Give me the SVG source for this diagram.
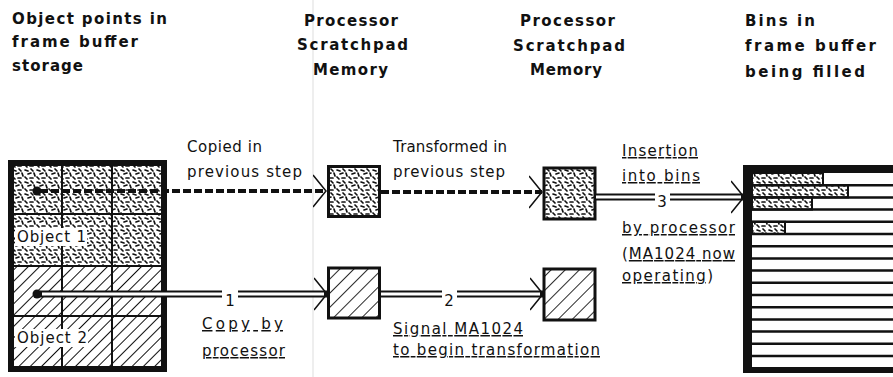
<svg xmlns="http://www.w3.org/2000/svg" width="893" height="377" viewBox="0 0 893 377">
<style>
.hd{font-family:"DejaVu Sans",sans-serif;font-weight:bold;font-size:15px;fill:#111}
.lb{font-family:"DejaVu Sans",sans-serif;font-size:15px;fill:#111}
.num{font-family:"DejaVu Sans",sans-serif;font-size:15px;fill:#111;text-anchor:middle}
.u{text-decoration:underline}
.box{stroke:#111;stroke-width:3}
.grid{stroke:#111;stroke-width:2;fill:none}
.dash{stroke:#111;stroke-width:4;stroke-dasharray:8 3;fill:none}
.dblo{stroke:#111;stroke-width:7;fill:none}
.dbli{stroke:#fff;stroke-width:3;fill:none}
.sep{stroke:#111;stroke-width:2.5}
.binfill{fill:url(#sq);stroke:#111;stroke-width:2}
</style>
<defs>
<pattern id="sq" width="12" height="12" patternUnits="userSpaceOnUse">
<rect width="12" height="12" fill="#fff"/>
<path d="M1,2 l3,1 M7,1 l2,2 M4,6 l3,-1 M10,5 l1,3 M1,9 l2,2 M6,10 l3,0" stroke="#111" stroke-width="1.7" stroke-linecap="round" fill="none"/>
</pattern>
<pattern id="hatch" width="8" height="8" patternUnits="userSpaceOnUse" patternTransform="rotate(45)">
<rect width="8" height="8" fill="#fff"/>
<line x1="0" y1="0" x2="0" y2="8" stroke="#111" stroke-width="2"/>
</pattern>
<pattern id="hatch2" width="10" height="10" patternUnits="userSpaceOnUse" patternTransform="rotate(45)">
<rect width="10" height="10" fill="#fff"/>
<line x1="0" y1="0" x2="0" y2="10" stroke="#111" stroke-width="1.8"/>
</pattern>
<marker id="chev" viewBox="0 0 14 34" refX="13" refY="17" markerWidth="14" markerHeight="34" orient="auto" markerUnits="userSpaceOnUse">
<path d="M0,1 L13,17 L0,33" fill="none" stroke="#111" stroke-width="1.5"/>
</marker>
</defs>
<rect width="893" height="377" fill="#fff"/>
<line x1="313" y1="0" x2="313" y2="377" stroke="#ddd" stroke-width="1"/>

<g id="headers">
<text class="hd" x="12" y="24" textLength="155">Object points in</text>
<text class="hd" x="12" y="47" textLength="126">frame buffer</text>
<text class="hd" x="12" y="71" textLength="71">storage</text>
<text class="hd" x="304" y="26" textLength="94">Processor</text>
<text class="hd" x="297" y="50" textLength="111">Scratchpad</text>
<text class="hd" x="313" y="75" textLength="75">Memory</text>
<text class="hd" x="520" y="26" textLength="95">Processor</text>
<text class="hd" x="513" y="51" textLength="112">Scratchpad</text>
<text class="hd" x="530" y="75" textLength="72">Memory</text>
<text class="hd" x="745" y="26" textLength="70">Bins in</text>
<text class="hd" x="745" y="51" textLength="131">frame buffer</text>
<text class="hd" x="745" y="77" textLength="120">being filled</text>
</g>

<g id="frame-buffer">
<rect x="14" y="166" width="150" height="100" fill="url(#sq)"/>
<rect x="14" y="266" width="150" height="103" fill="url(#hatch)"/>
<path class="grid" d="M62,166 V369 M112,166 V369 M14,214 H164 M14,266 H164 M14,316 H164"/>
<rect x="11" y="163" width="153" height="206" fill="none" stroke="#111" stroke-width="6"/>
<rect x="15" y="228" width="72" height="18" fill="#fff"/>
<text class="lb" x="17" y="242" textLength="69">Object 1</text>
<rect x="15" y="329" width="73" height="18" fill="#fff"/>
<text class="lb" x="17" y="343" textLength="70">Object 2</text>
</g>

<g id="scratch1-top"><rect class="box" x="328.5" y="166.5" width="51" height="50" fill="url(#sq)"/></g>
<g id="scratch1-bottom"><rect class="box" x="328.5" y="268" width="51" height="50" fill="url(#hatch2)"/></g>
<g id="scratch2-top"><rect class="box" x="544" y="168" width="51" height="51" fill="url(#sq)"/></g>
<g id="scratch2-bottom"><rect class="box" x="544" y="269" width="51" height="51" fill="url(#hatch2)"/></g>

<g id="bins">
<rect x="752" y="173" width="141" height="195" fill="#fff"/>
<rect class="binfill" x="752" y="173" width="71" height="12.2"/>
<rect class="binfill" x="752" y="185.2" width="96" height="12.2"/>
<rect class="binfill" x="752" y="197.4" width="60" height="12.2"/>
<rect class="binfill" x="752" y="221.8" width="33" height="12.2"/>
<path class="sep" d="M752,185.2 H893 M752,197.4 H893 M752,209.6 H893 M752,221.8 H893 M752,234 H893 M752,246.2 H893 M752,258.4 H893 M752,270.6 H893 M752,282.8 H893 M752,295 H893 M752,307.2 H893 M752,319.4 H893 M752,331.6 H893 M752,343.8 H893 M752,356 H893"/>
<rect x="743" y="165" width="9" height="208" fill="#111"/>
<rect x="743" y="165" width="150" height="8" fill="#111"/>
<rect x="743" y="367" width="150" height="6" fill="#111"/>
</g>

<g id="connectors">
<circle cx="37" cy="191" r="4.5" fill="#111"/>
<path class="dash" d="M40,191 H326" marker-end="url(#chev)"/>
<path class="dash" d="M381,192 H542" marker-end="url(#chev)"/>

<circle cx="37" cy="294" r="4.5" fill="#111"/>
<path class="dblo" d="M40,294 H222"/>
<path class="dbli" d="M42,294 H222"/>
<path class="dblo" d="M238,294 H327" marker-end="url(#chev)"/>
<path class="dbli" d="M238,294 H324"/>
<text class="num" x="230" y="306">1</text>

<path class="dblo" d="M381,294 H442"/>
<path class="dbli" d="M381,294 H442"/>
<path class="dblo" d="M457,294 H543" marker-end="url(#chev)"/>
<path class="dbli" d="M457,294 H540"/>
<text class="num" x="449" y="306">2</text>

<path class="dblo" d="M596,197 H655"/>
<path class="dbli" d="M596,197 H655"/>
<path class="dblo" d="M670,197 H744" marker-end="url(#chev)"/>
<path class="dbli" d="M670,197 H741"/>
<text class="num" x="662" y="207">3</text>
</g>

<g id="labels">
<text class="lb" x="187" y="152" textLength="75">Copied in</text>
<text class="lb" x="187" y="177" textLength="115">previous step</text>
<text class="lb" x="393" y="152" textLength="114">Transformed in</text>
<text class="lb" x="393" y="177" textLength="112">previous step</text>
<text class="lb u" x="622" y="156" textLength="76">Insertion</text>
<text class="lb u" x="622" y="181" textLength="78">into bins</text>
<text class="lb u" x="622" y="233" textLength="113">by processor</text>
<text class="lb" x="622" y="259" textLength="113">(<tspan class="u">MA1024 now</tspan></text>
<text class="lb" x="622" y="281" textLength="91"><tspan class="u">operating</tspan>)</text>
<text class="lb u" x="202" y="329" textLength="81">Copy by</text>
<text class="lb u" x="202" y="356" textLength="83">processor</text>
<text class="lb u" x="393" y="334" textLength="130">Signal MA1024</text>
<text class="lb u" x="393" y="355" textLength="207">to begin transformation</text>
</g>
</svg>
